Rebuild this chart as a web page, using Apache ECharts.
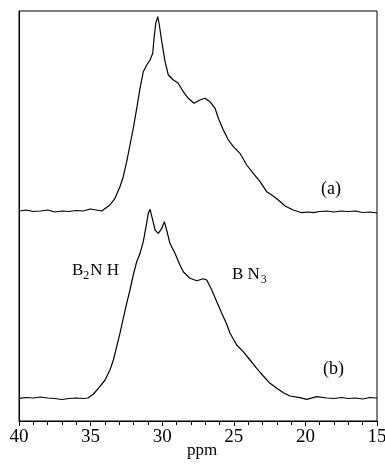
<!DOCTYPE html>
<html>
<head>
<meta charset="utf-8">
<script src="https://cdn.jsdelivr.net/npm/echarts@6/dist/echarts.min.js"></script>
<style>
  html, body { margin: 0; padding: 0; background: #fff; }
  #main { width: 385px; height: 466px; }
</style>
</head>
<body>
<div id="main"></div>
<script>
// spectrum (a), upper trace: chemical shift (ppm) and intensity (arb. units)
var ppmA = [40, 39.5, 39, 38.5, 38, 37.5, 37, 36.5, 36, 35.5, 35.04, 34.6, 34.22, 33.65, 33.3, 32.95, 32.72, 32.48, 32.25, 32.02, 31.78, 31.55, 31.32, 31.08, 30.85, 30.66, 30.57, 30.45, 30.31, 30.2, 30.03, 29.8, 29.57, 29.22, 28.88, 28.53, 28.18, 27.78, 27.36, 27.01, 26.66, 26.31, 26.08, 25.73, 25.38, 25.03, 24.57, 24.1, 23.64, 23.17, 22.7, 22.35, 21.89, 21.42, 20.85, 20.26, 19.8, 19.45, 19, 18.5, 18, 17.5, 17, 16.5, 16, 15.5, 15];
var intA = [210, 211, 209.5, 210, 211, 209, 210, 209.5, 210.5, 210, 212, 211, 210, 216, 222.7, 234.3, 244.3, 259.3, 276, 292.7, 312.7, 332.7, 349.3, 356, 361, 367.7, 382.7, 397.7, 404.3, 396, 379.3, 359.3, 346, 341, 337.7, 329.3, 322.7, 317.7, 321, 322.7, 319.3, 312.7, 302.7, 291, 281, 274.3, 267.7, 256, 247.7, 239.3, 229.3, 226, 221, 215, 211, 208.3, 209, 208.3, 209.5, 210, 209, 210, 209.5, 210, 208.5, 209, 208];

// spectrum (b), lower trace
var ppmB = [40, 39.5, 39, 38.5, 38, 37.5, 37, 36.5, 36, 35.5, 35.18, 34.8, 34.46, 33.99, 33.65, 33.41, 33.18, 32.95, 32.72, 32.48, 32.25, 32.02, 31.78, 31.55, 31.32, 31.13, 30.97, 30.85, 30.69, 30.5, 30.27, 30.03, 29.85, 29.69, 29.46, 29.11, 28.76, 28.53, 28.06, 27.59, 27.13, 26.89, 26.54, 26.19, 25.84, 25.5, 25.27, 24.8, 24.34, 23.87, 23.4, 22.94, 22.47, 22.0, 21.54, 21.08, 20.38, 19.91, 19.21, 18.5, 18, 17.5, 17, 16.5, 16, 15.5, 15];
var intB = [22.7, 23.5, 23, 24, 23, 22.5, 21.5, 22.5, 23, 22.5, 23, 27, 32.7, 41, 51, 61, 74.3, 87.7, 102.7, 117.7, 131, 146, 159.3, 167.7, 179.3, 194.3, 207.7, 211.7, 202.7, 191, 187.7, 192.7, 199.3, 191, 177.7, 167.7, 156, 149.3, 142.7, 140.3, 142.3, 141, 131, 119.3, 107.7, 97, 88, 76, 69.3, 61, 52.7, 45, 37.7, 32.7, 28.3, 25, 23.3, 21.7, 24.3, 23, 22.5, 23.5, 22.5, 23, 22, 23.5, 23];

var xTicks = [40, 35, 30, 25, 20, 15];

function pairs(xs, ys) {
  return xs.map(function (x, i) { return [x, ys[i]]; });
}

var font = '"Liberation Serif", "DejaVu Serif", serif';
var chart = echarts.init(document.getElementById('main'));

var option = {
  animation: false,
  backgroundColor: '#fff',
  // frame around the plot; v6 would otherwise shrink the grid to fit labels
  grid: {
    left: 19, right: 8, top: 11, bottom: 45,
    outerBoundsMode: 'none', containLabel: false,
    show: true, borderColor: '#000', borderWidth: 1, backgroundColor: 'transparent'
  },
  xAxis: {
    type: 'value',
    inverse: true,
    min: 15,
    max: 40,
    interval: 5,
    axisLine: { show: true, onZero: false, lineStyle: { color: '#000', width: 1 } },
    axisTick: { inside: false, length: 5, lineStyle: { color: '#000' } },
    minorTick: { show: true, splitNumber: 5, length: 4, lineStyle: { color: '#000' } },
    axisLabel: {
      fontFamily: font, fontSize: 19, color: '#000', margin: 7,
      formatter: function (v) { return xTicks.indexOf(v) >= 0 ? String(v) : ''; }
    },
    splitLine: { show: false }
  },
  yAxis: {
    type: 'value',
    min: 0,
    max: 410,
    axisLine: { show: true, onZero: false, lineStyle: { color: '#000', width: 1 } },
    axisTick: { show: false },
    axisLabel: { show: false },
    splitLine: { show: false }
  },
  series: [{
    name: '(a)',
    type: 'line',
    data: pairs(ppmA, intA),
    showSymbol: false,
    lineStyle: { color: '#000', width: 1.2 }
  }, {
    name: '(b)',
    type: 'line',
    data: pairs(ppmB, intB),
    showSymbol: false,
    lineStyle: { color: '#000', width: 1.2 }
  }],
  graphic: [{
    // axis title, placed by hand (v6 pushes axis names below the labels)
    type: 'text', x: 202, y: 442,
    style: { text: 'ppm', font: '17px ' + font, fill: '#000', align: 'center', verticalAlign: 'top' }
  }, {
    type: 'text', left: 321, top: 180,
    style: { text: '(a)', font: '18px ' + font, fill: '#000' }
  }, {
    type: 'text', left: 323, top: 360,
    style: { text: '(b)', font: '18px ' + font, fill: '#000' }
  }, {
    type: 'text', left: 72, top: 262,
    style: {
      text: 'B{s|2}N H',
      font: '17px ' + font, fill: '#000',
      rich: { s: { fontSize: 12, fontFamily: font, padding: [10, 1, 0, 0] } }
    }
  }, {
    type: 'text', left: 232, top: 266,
    style: {
      text: 'B N{s|3}',
      font: '17px ' + font, fill: '#000',
      rich: { s: { fontSize: 12, fontFamily: font, padding: [10, 0, 0, 1] } }
    }
  }]
};

chart.setOption(option);
</script>
</body>
</html>
